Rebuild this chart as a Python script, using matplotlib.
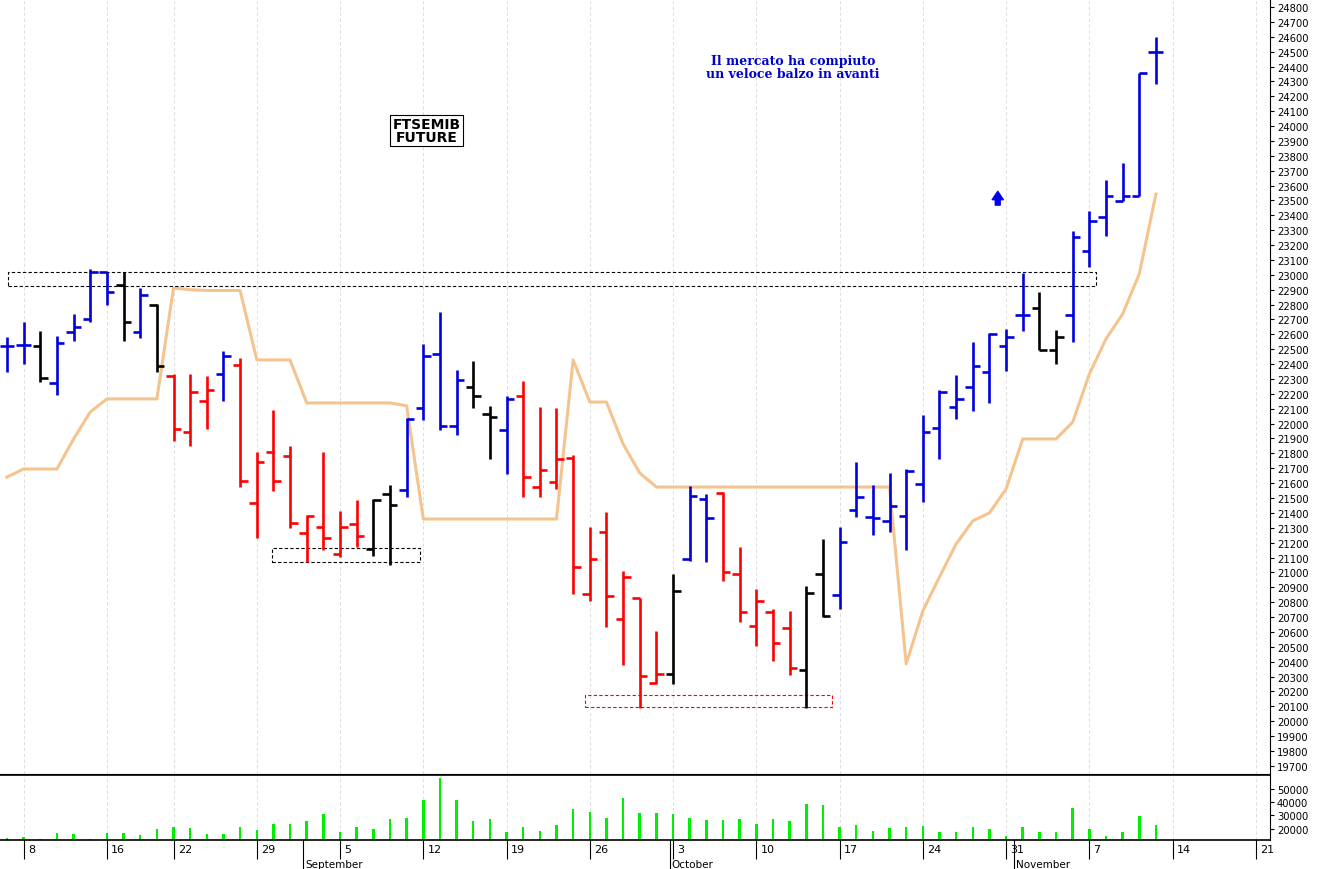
import matplotlib
matplotlib.use('Agg')
import matplotlib.pyplot as plt
import matplotlib.transforms as mtrans
import numpy as np

# OHLC per trading day (Aug 5 - Nov 11, 2011)
opens = [22520, 22528, 22520, 22273, 22614, 22703, 23017, 22932, 22618, 22797,
         22323, 21942, 22154, 22334, 22394, 21465, 21807, 21780, 21263, 21303,
         21124, 21325, 21158, 21527, 21554, 22105, 22468, 21986, 22244, 22065,
         21957, 22184, 21572, 21606, 21767, 20855, 21270, 20687, 20826, 20257,
         20318, 21090, 21494, 21534, 20990, 20642, 20732, 20627, 20347, 20990,
         20848, 21422, 21371, 21343, 21378, 21597, 21968, 22111, 22245, 22345,
         22523, 22731, 22778, 22495, 22731, 23160, 23391, 23495, 23530, 24495]
highs = [22580, 22685, 22625, 22591, 22737, 23039, 23017, 23017, 22909, 22804,
         22334, 22334, 22318, 22490, 22441, 21807, 22094, 21852, 21386, 21812,
         21415, 21489, 21494, 21588, 22036, 22535, 22748, 22360, 22423, 22121,
         22188, 22289, 22110, 22103, 21789, 21303, 21404, 21012, 20826, 20609,
         20990, 21583, 21527, 21538, 21169, 20889, 20754, 20743, 20906, 21225,
         21303, 21744, 21586, 21667, 21695, 22060, 22227, 22326, 22551, 22611,
         22634, 23014, 22882, 22627, 23298, 23432, 23638, 23754, 24356, 24601]
lows = [22345, 22400, 22282, 22192, 22558, 22681, 22797, 22558, 22573, 22345,
        21886, 21852, 21964, 22154, 21572, 21229, 21550, 21296, 21072, 21151,
        21106, 21169, 21113, 21050, 21509, 22025, 21960, 21924, 22103, 21762,
        21662, 21505, 21505, 21561, 20855, 20810, 20631, 20378, 20087, 20250,
        20250, 21079, 21068, 20945, 20665, 20508, 20407, 20311, 20087, 20698,
        20754, 21370, 21250, 21274, 21151, 21470, 21760, 22033, 22088, 22141,
        22356, 22620, 22495, 22403, 22546, 23055, 23264, 23495, 23530, 24282]
closes = [22520, 22528, 22307, 22542, 22647, 23017, 22882, 22685, 22864, 22390,
          21964, 22215, 22226, 22457, 21617, 21745, 21617, 21332, 21382, 21232,
          21303, 21243, 21489, 21453, 22031, 22457, 21986, 22293, 22184, 22042,
          22166, 21639, 21691, 21762, 21039, 21090, 20844, 20972, 20306, 20318,
          20873, 21516, 21364, 21001, 20732, 20806, 20526, 20356, 20862, 20705,
          21202, 21505, 21366, 21447, 21683, 21945, 22211, 22164, 22389, 22604,
          22581, 22731, 22495, 22581, 23252, 23363, 23530, 23530, 24356, 24495]
bar_colors = (['b'] * 2 + ['k'] + ['b'] * 4 + ['k', 'b', 'k'] + ['r'] * 3 + ['b'] + ['r'] * 8
              + ['k'] * 2 + ['b'] * 4 + ['k'] * 2 + ['b'] + ['r'] * 9 + ['k'] + ['b'] * 2
              + ['r'] * 5 + ['k'] * 2 + ['b'] * 12 + ['k'] * 2 + ['b'] * 6)
stop_line = [21641, 21695, 21695, 21695, 21897, 22078, 22166, 22166, 22166, 22166,
             22911, 22900, 22895, 22895, 22895, 22428, 22428, 22428, 22139, 22139,
             22139, 22139, 22139, 22139, 22120, 21359, 21359, 21359, 21359, 21359,
             21359, 21359, 21359, 21359, 22428, 22145, 22145, 21863, 21668, 21574,
             21574, 21574, 21574, 21574, 21574, 21574, 21574, 21574, 21574, 21574,
             21574, 21574, 21574, 21574, 20385, 20741, 20969, 21191, 21346, 21400,
             21561, 21897, 21897, 21897, 22010, 22333, 22569, 22737, 23006, 23543]
volume = [13000, 13700, 12400, 16300, 15500, 11800, 16300, 16300, 15000, 19500,
          21000, 20300, 15800, 15800, 21000, 19000, 23700, 23700, 26000, 30800,
          17000, 21000, 19500, 27400, 28200, 42000, 58400, 42000, 25500, 27400,
          17000, 21000, 18400, 23000, 34700, 32900, 28200, 43000, 32000, 32000,
          30800, 28200, 26800, 26800, 27400, 23700, 27400, 25500, 38700, 37900,
          20800, 23000, 18200, 20300, 20800, 22000, 17400, 17600, 21000, 19500,
          14500, 20800, 17600, 17600, 35300, 20000, 14200, 17600, 29500, 23000]
tick_pos = [1, 6, 10, 15, 20, 25, 30, 35, 40, 45, 50, 55, 60, 65, 70, 75]
tick_labels = ['8', '16', '22', '29', '5', '12', '19', '26', '3', '10', '17', '24', '31', '7', '14', '21']
months = [(17.8, 'September'), (39.8, 'October'), (60.5, 'November')]

cmap = {'b': '#0000dd', 'r': '#ff0000', 'k': '#000000'}
x = np.arange(len(opens))
W, H = 1319, 870
fig = plt.figure(figsize=(W / 100, H / 100), dpi=100)
ax = fig.add_axes([0, 1 - 775 / H, 1270 / W, 775 / H])
axv = fig.add_axes([0, 1 - 841 / H, 1270 / W, 65 / H])
xl = (-0.42, 75.85)

for a in (ax, axv):
    for t in tick_pos:
        a.axvline(t, color='#d8d8e0', lw=0.6, ls=(0, (4, 3)), zorder=0)

for i in x:
    c = cmap[bar_colors[i]]
    ax.plot([i, i], [lows[i], highs[i]], color=c, lw=1.9, solid_capstyle='butt')
    ax.plot([i - 0.45, i], [opens[i], opens[i]], color=c, lw=1.9, solid_capstyle='butt')
    ax.plot([i, i + 0.45], [closes[i], closes[i]], color=c, lw=1.9, solid_capstyle='butt')
ax.plot(x, stop_line, color='#f5c48e', lw=2.2, zorder=1)

# dashed boxes
for (x0, x1, y0, y1, col) in [(0.06, 65.4, 22925, 23019, 'k'), (15.9, 24.8, 21070, 21164, 'k'),
                              (34.7, 49.55, 20096, 20176, '#ff0000')]:
    ax.add_patch(plt.Rectangle((x0, y0), x1 - x0, y1 - y0, fill=False, ec=col, lw=0.8, ls=(0, (3, 2))))

ax.text(25.2, 23970, 'FTSEMIB\nFUTURE', ha='center', va='center', fontsize=10, fontweight='bold',
        family='DejaVu Sans', linespacing=0.95,
        bbox=dict(boxstyle='square,pad=0.15', fc='white', ec='black', lw=0.8))
ax.text(47.2, 24400, 'Il mercato ha compiuto\nun veloce balzo in avanti', ha='center', va='center',
        fontsize=9, fontweight='bold', color='#0000cc', family='DejaVu Serif', linespacing=1.0)
ax.annotate('', xy=(59.5, 23580), xytext=(59.5, 23450),
            arrowprops=dict(arrowstyle='simple,head_width=0.8,head_length=0.6,tail_width=0.35',
                            color='#0000ee'))

ax.set_xlim(*xl)
ax.set_ylim(19645, 24854)
ax.yaxis.tick_right()
ax.set_yticks(np.arange(19700, 24801, 100))
ax.tick_params(axis='y', labelsize=7.2, length=3, pad=2, labelfontfamily='Liberation Sans Narrow')
ax.set_xticks([])
for s in ['top', 'left']:
    ax.spines[s].set_visible(False)

axv.bar(x, volume, width=0.15, color='#00ee00')
axv.set_xlim(*xl)
axv.set_ylim(11300, 60600)
axv.yaxis.tick_right()
axv.set_yticks([20000, 30000, 40000, 50000])
axv.tick_params(axis='y', labelsize=7.2, length=3, pad=2, labelfontfamily='Liberation Sans Narrow')
axv.set_xticks(tick_pos)
axv.set_xticklabels(tick_labels, fontsize=8, fontfamily='Liberation Sans Narrow', ha='left')
axv.tick_params(axis='x', length=14, direction='out', pad=-11)
axv.spines['left'].set_visible(False)
axv.spines['top'].set_linewidth(1.2)
axv.spines['bottom'].set_linewidth(1.2)

# x tick labels sit right of the tick line
off = mtrans.ScaledTranslation(3 / 72, 0, fig.dpi_scale_trans)
for lab in axv.get_xticklabels():
    lab.set_transform(lab.get_transform() + off)

# month separators below the date row
for pos, name in months:
    axv.plot([pos, pos], [0, -0.5], transform=axv.get_xaxis_transform(), color='k', lw=0.8, clip_on=False)
    axv.text(pos + 0.1, -0.44, name, transform=axv.get_xaxis_transform(), fontsize=7.5,
             fontfamily='Liberation Sans Narrow', va='bottom', ha='left')

fig.savefig('out.png', dpi=100, facecolor='white')
